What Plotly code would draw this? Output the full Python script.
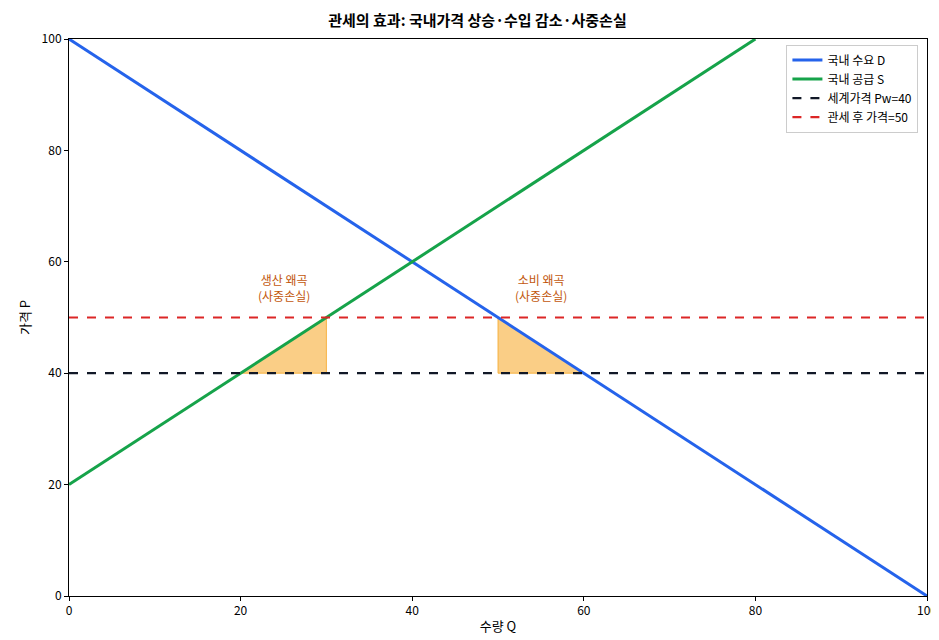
import plotly.graph_objects as go

# 데이터
q = [0, 100]
demand_p = [100, 0]          # P = 100 - Q
supply_q = [0, 80]
supply_p = [20, 100]         # P = 20 + Q
world_price = 40
tariff_price = 50
prod_tri_q = [20, 30, 30, 20]
prod_tri_p = [40, 50, 40, 40]
cons_tri_q = [50, 60, 50, 50]
cons_tri_p = [50, 40, 40, 50]
x_ticks = [0, 20, 40, 60, 80, 100]
y_ticks = [0, 20, 40, 60, 80, 100]

FONT = "Noto Sans CJK KR"
fill = "rgba(245,166,35,0.55)"
edge = "rgba(245,166,35,0.8)"

fig = go.Figure()
fig.add_trace(go.Scatter(x=prod_tri_q, y=prod_tri_p, fill="toself", fillcolor=fill,
                         line=dict(color=edge, width=1), mode="lines", showlegend=False, hoverinfo="skip"))
fig.add_trace(go.Scatter(x=cons_tri_q, y=cons_tri_p, fill="toself", fillcolor=fill,
                         line=dict(color=edge, width=1), mode="lines", showlegend=False, hoverinfo="skip"))
fig.add_trace(go.Scatter(x=q, y=demand_p, mode="lines", name="국내 수요 D",
                         line=dict(color="#2563eb", width=3)))
fig.add_trace(go.Scatter(x=supply_q, y=supply_p, mode="lines", name="국내 공급 S",
                         line=dict(color="#16a34a", width=3)))
fig.add_trace(go.Scatter(x=q, y=[world_price] * 2, mode="lines", name="세계가격 Pw=40",
                         line=dict(color="#111827", width=2.2, dash="dash")))
fig.add_trace(go.Scatter(x=q, y=[tariff_price] * 2, mode="lines", name="관세 후 가격=50",
                         line=dict(color="#dc2626", width=2.2, dash="dash")))

fig.add_annotation(x=25, y=52, text="생산 왜곡<br>(사중손실)", showarrow=False,
                   yanchor="bottom", font=dict(color="#c2570c", size=12))
fig.add_annotation(x=55, y=52, text="소비 왜곡<br>(사중손실)", showarrow=False,
                   yanchor="bottom", font=dict(color="#c2570c", size=12))

axis = dict(showgrid=False, zeroline=False, showline=True, linecolor="black", mirror=True,
            ticks="outside", ticklen=4, tickcolor="black", automargin=False,
            tickfont=dict(size=12, color="black"))
fig.update_xaxes(range=[0, 100], tickvals=x_ticks,
                 title=dict(text="수량 Q", standoff=4, font=dict(size=13)), **axis)
fig.update_yaxes(range=[0, 100], tickvals=y_ticks,
                 title=dict(text="가격 P", standoff=8, font=dict(size=13)), **axis)

fig.update_layout(
    width=939, height=640,
    margin=dict(l=61, r=20, t=31, b=52),
    plot_bgcolor="white", paper_bgcolor="white",
    font=dict(family=FONT, size=13, color="black"),
    title=dict(text="<b>관세의 효과: 국내가격 상승·수입 감소·사중손실</b>", x=0.5, xanchor="center",
               y=0.988, yanchor="top", font=dict(size=15)),
    legend=dict(x=0.99, y=0.99, xanchor="right", yanchor="top", bordercolor="#cccccc",
                borderwidth=1, bgcolor="rgba(255,255,255,0.9)", font=dict(size=12)),
)
fig.write_html("out.html")
